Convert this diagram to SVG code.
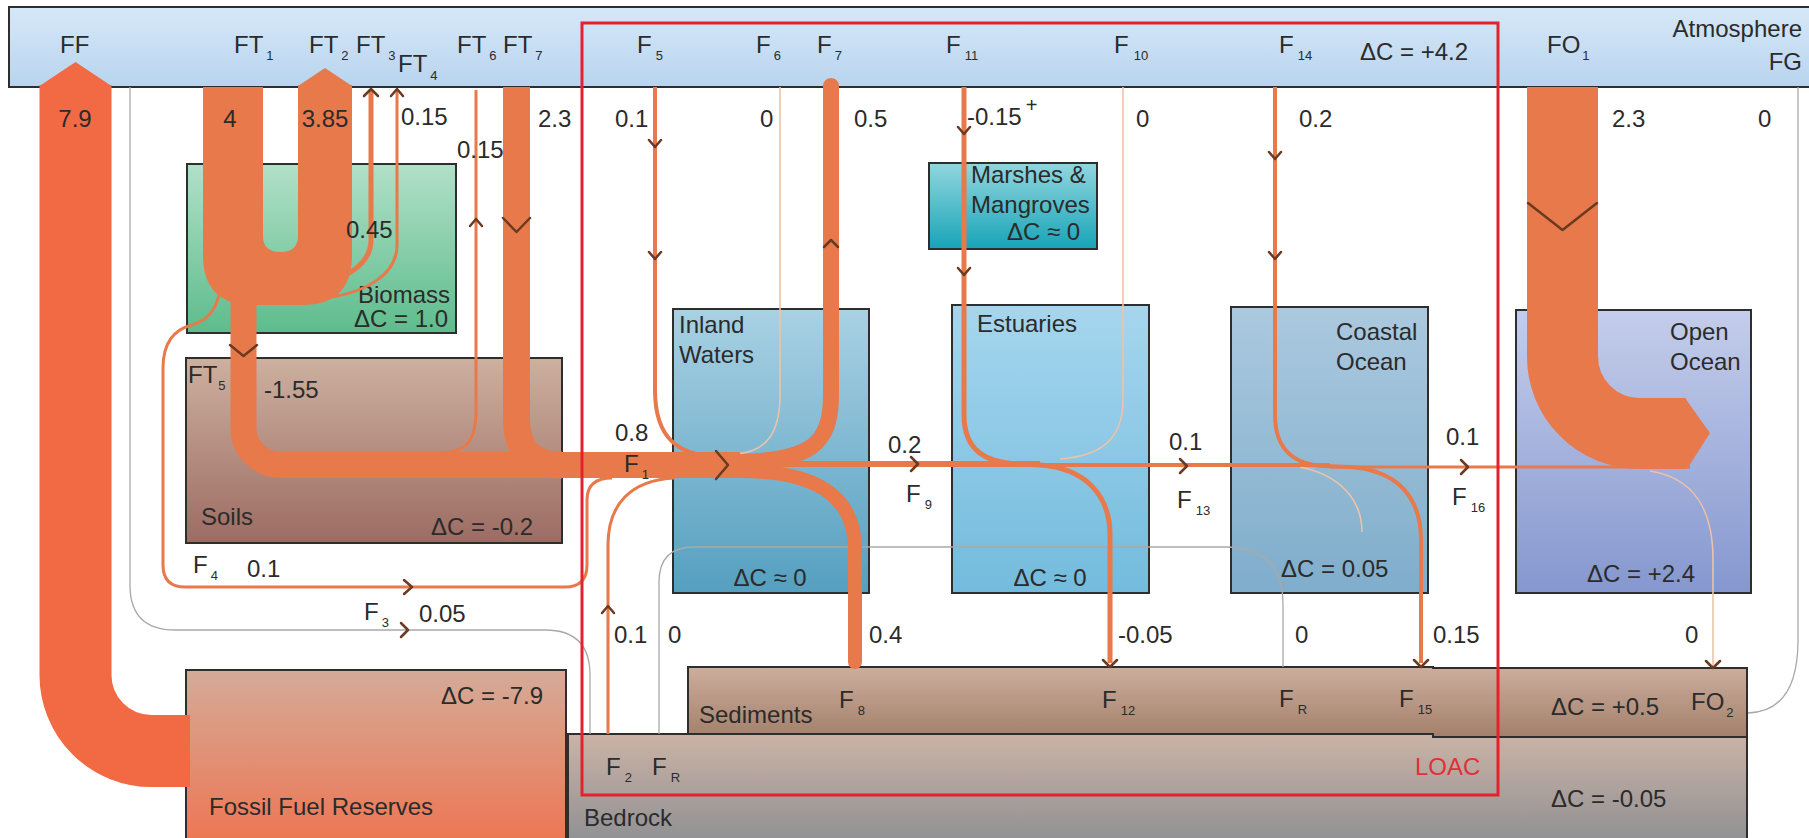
<svg xmlns="http://www.w3.org/2000/svg" width="1809" height="838" viewBox="0 0 1809 838">
<defs>
  <linearGradient id="gAtm" x1="0" y1="0" x2="0" y2="1"><stop offset="0" stop-color="#d6e8f8"/><stop offset="1" stop-color="#b8d4ee"/></linearGradient>
  <linearGradient id="gBio" x1="0" y1="0" x2="0" y2="1"><stop offset="0" stop-color="#b2e0c8"/><stop offset="1" stop-color="#5dbc8c"/></linearGradient>
  <linearGradient id="gSoil" x1="0" y1="0" x2="0" y2="1"><stop offset="0" stop-color="#cdb09f"/><stop offset="1" stop-color="#9c6c63"/></linearGradient>
  <linearGradient id="gMarsh" x1="0" y1="0" x2="0" y2="1"><stop offset="0" stop-color="#92d6de"/><stop offset="1" stop-color="#17a4b7"/></linearGradient>
  <linearGradient id="gInland" x1="0" y1="0" x2="0" y2="1"><stop offset="0" stop-color="#a9d1e3"/><stop offset="1" stop-color="#559fc0"/></linearGradient>
  <linearGradient id="gEstu" x1="0" y1="0" x2="0" y2="1"><stop offset="0" stop-color="#a6d6ee"/><stop offset="1" stop-color="#73bbdd"/></linearGradient>
  <linearGradient id="gCoast" x1="0" y1="0" x2="0" y2="1"><stop offset="0" stop-color="#abc9df"/><stop offset="1" stop-color="#7fadcb"/></linearGradient>
  <linearGradient id="gOpen" x1="0" y1="0" x2="0" y2="1"><stop offset="0" stop-color="#c4cdea"/><stop offset="1" stop-color="#8597cf"/></linearGradient>
  <linearGradient id="gSed" x1="0" y1="0" x2="0" y2="1"><stop offset="0" stop-color="#ccae9c"/><stop offset="1" stop-color="#a3806c"/></linearGradient>
  <linearGradient id="gFfr" x1="0" y1="0" x2="0" y2="1"><stop offset="0" stop-color="#d4ab98"/><stop offset="1" stop-color="#ef7350"/></linearGradient>
  <linearGradient id="gBed" x1="0" y1="0" x2="0" y2="1"><stop offset="0" stop-color="#cbb3a6"/><stop offset="1" stop-color="#8c8e92"/></linearGradient>
</defs>
<style>
  text{font-family:"Liberation Sans",Arial,sans-serif;font-size:24px;fill:#2b2b2b}
  .sub{font-size:13px}
  .box{stroke:#2e2e2e;stroke-width:2}
  .flow{fill:none;stroke:#e8794a}
  .thin{fill:none;stroke:#e8794a;stroke-width:3}
  .pale{fill:none;stroke:#efc2a6;stroke-width:1.6}
  .gray{fill:none;stroke:#a9a9a9;stroke-width:1.3}
  .chev{fill:none;stroke:#6b3a20;stroke-width:2.5;stroke-linecap:round;stroke-linejoin:round}
  .loac{fill:#e0303a}
</style>
<rect width="1809" height="838" fill="#ffffff"/>

<!-- reservoirs -->
<g id="atmosphere">
  <rect class="box" x="9" y="7" width="1810" height="80" fill="url(#gAtm)"/>
  <text x="1802" y="37" text-anchor="end">Atmosphere</text>
  <text x="1802" y="70" text-anchor="end">FG</text>
  <text x="1360" y="60">ΔC = +4.2</text>
</g>
<g id="biomass">
  <rect class="box" x="187" y="164" width="269" height="169" fill="url(#gBio)"/>
  <text x="450" y="303" text-anchor="end">Biomass</text>
  <text x="448" y="327" text-anchor="end">ΔC = 1.0</text>
</g>
<g id="soils">
  <rect class="box" x="186" y="358" width="376" height="185" fill="url(#gSoil)"/>
  <text x="201" y="525">Soils</text>
  <text x="431" y="535">ΔC = -0.2</text>
</g>
<g id="marshes">
  <rect class="box" x="929" y="163" width="168" height="86" fill="url(#gMarsh)"/>
</g>
<g id="inland-waters">
  <rect class="box" x="673" y="309" width="196" height="284" fill="url(#gInland)"/>
  <text x="679" y="333">Inland</text>
  <text x="679" y="363">Waters</text>
  <text x="770" y="586" text-anchor="middle">ΔC ≈ 0</text>
</g>
<g id="estuaries">
  <rect class="box" x="952" y="305" width="197" height="288" fill="url(#gEstu)"/>
  <text x="977" y="332">Estuaries</text>
  <text x="1050" y="586" text-anchor="middle">ΔC ≈ 0</text>
</g>
<g id="coastal-ocean">
  <rect class="box" x="1231" y="307" width="197" height="286" fill="url(#gCoast)"/>
  <text x="1336" y="340">Coastal</text>
  <text x="1336" y="370">Ocean</text>
  <text x="1281" y="577">ΔC = 0.05</text>
</g>
<g id="open-ocean">
  <rect class="box" x="1516" y="310" width="235" height="283" fill="url(#gOpen)"/>
  <text x="1670" y="340">Open</text>
  <text x="1670" y="370">Ocean</text>
  <text x="1587" y="582">ΔC = +2.4</text>
</g>
<g id="fossil-fuel-reserves">
  <rect class="box" x="186" y="670" width="380" height="180" fill="url(#gFfr)"/>
  <text x="543" y="704" text-anchor="end">ΔC = -7.9</text>
  <text x="209" y="815">Fossil Fuel Reserves</text>
</g>
<g id="bedrock">
  <rect class="box" x="568" y="734" width="1179" height="115" fill="url(#gBed)"/>
  <text x="584" y="826">Bedrock</text>
  <text x="1551" y="807">ΔC = -0.05</text>
</g>
<g id="sediments">
  <path class="box" d="M688,667 H1433 V668 H1747 V737 H1433 V734 H688 Z" fill="url(#gSed)"/>
  <text x="699" y="723">Sediments</text>
  <text x="1551" y="715">ΔC = +0.5</text>
</g>

<!-- carbon fluxes -->
<g id="connectors">
  <!-- zero / small fluxes drawn as hairlines -->
  <path class="gray" d="M130,87 V585 Q130,630 175,630 H545 Q590,630 590,675 V734"/>
  <path class="gray" d="M659,734 V582 Q659,547 694,547 H1225 Q1283,547 1283,605 V667"/>
  <path class="gray" d="M1798,87 V640 C1798,690 1780,712 1748,713"/>
  <path class="pale" d="M780,87 V395 C780,435 765,452 735,454"/>
  <path class="pale" d="M1123,87 V400 C1123,440 1100,456 1060,459"/>
  <path class="pale" d="M1300,467 C1340,475 1362,500 1362,532"/>
  <path class="pale" d="M1650,471 C1695,478 1713,510 1713,560 V667"/>

  <!-- fossil fuel emissions -->
  <path d="M75.5,85 V675 A76,76 0 0 0 151.5,751 H190" fill="none" stroke="#f26a43" stroke-width="72"/>
  <polygon points="39.5,86 75.5,62 111.5,86" fill="#f26a43"/>

  <!-- terrestrial uptake / respiration loop -->
  <path d="M203,87 V255 Q203,305 253,305 H302 Q352,305 352,255 V85 H298 V236 Q298,252 280.5,252 Q263,252 263,236 V87 Z" fill="#e8794a"/>
  <polygon points="298,86 325,68 352,86" fill="#e8794a"/>
  <path class="flow" stroke-width="5" d="M371,90 V240 C371,265 345,278 318,285"/>
  <path class="flow" stroke-width="3" d="M397,90 V245 C397,275 365,293 325,298"/>

  <!-- soil pathway into inland waters -->
  <path class="flow" stroke-width="26" d="M243.5,298 V428 A37,37 0 0 0 280.5,465 H740"/>
  <path class="flow" stroke-width="27" d="M516.5,87 V420 Q516.5,465 562,465"/>
  <path class="thin" d="M440,453 C468,452 476,440 476,410 V90"/>
  <path class="thin" d="M222,268 C222,305 210,320 192,325 C172,330 163,345 163,368 V565 Q163,587 185,587 H565 Q587,587 587,565 V500 Q587,478 612,478"/>
  <path class="thin" d="M608,734 V545 C608,505 630,480 675,478"/>

  <!-- inland waters exchanges -->
  <path class="flow" stroke-width="4" d="M655,87 V390 C655,440 680,455 715,456"/>
  <path class="flow" stroke-width="16" stroke-linecap="round" d="M831,86 V395 C831,445 810,460 740,462"/>
  <path class="flow" stroke-width="14" stroke-linecap="round" d="M740,471 C822,471 855,500 855,550 V662"/>
  <path class="flow" stroke-width="6" d="M735,464 H1040"/>
  <path class="flow" stroke-width="4" d="M1040,465 H1330"/>
  <path class="flow" stroke-width="3" d="M1330,467 H1690"/>

  <!-- estuaries and coastal ocean -->
  <path class="flow" stroke-width="5" d="M964,87 V415 C964,450 985,463 1020,464 L1040,465 C1085,468 1110,495 1110,535 V663"/>
  <path class="flow" stroke-width="4" d="M1275,87 V415 C1275,450 1295,465 1325,466 L1350,467 C1395,470 1421,495 1421,540 V663"/>

  <!-- open ocean uptake -->
  <path d="M1562.5,87 V356 A77,77 0 0 0 1639.5,433.5 H1686" fill="none" stroke="#e8794a" stroke-width="71"/>
  <polygon points="1685,398 1710,433 1687,469 1680,469 1680,398" fill="#e8794a"/>

  <!-- direction marks -->
  <path class="chev" stroke-width="3" d="M716,451 L728,465 L716,479"/>
  <path class="chev" d="M911,457 L918,464 L911,471"/>
  <path class="chev" d="M1180,459 L1187,466 L1180,473"/>
  <path class="chev" d="M1461,460 L1468,467 L1461,474"/>
  <path class="chev" d="M404,580 L412,587 L404,594"/>
  <path class="chev" stroke="#8a8a8a" stroke-width="1.6" d="M401,623 L408,630 L401,637"/>
  <path class="chev" d="M602,613 L608,606 L614,613"/>
  <path class="chev" d="M649,140 L655,147 L661,140 M649,252 L655,259 L661,252"/>
  <path class="chev" d="M958,127 L964,134 L970,127 M958,268 L964,275 L970,268"/>
  <path class="chev" d="M1269,152 L1275,159 L1281,152 M1269,252 L1275,259 L1281,252"/>
  <path class="chev" d="M824,247 L831,240 L838,247"/>
  <path class="chev" d="M470,226 L476,219 L482,226"/>
  <path class="chev" d="M364,96 L371,89 L378,96 M391,96 L397,89 L403,96"/>
  <path class="chev" d="M503,218 L516.5,232 L530,218"/>
  <path class="chev" d="M230,345 L243.5,356 L257,345"/>
  <path class="chev" stroke-width="3" d="M1528,203 L1562.5,230 L1597,203"/>
  <path class="chev" d="M1103,660 L1110,667 L1117,660 M1414,660 L1421,667 L1428,660 M1706,661 L1713,668 L1720,661"/>
</g>

<!-- land-ocean aquatic continuum boundary -->
<g id="loac">
  <rect x="582" y="23" width="916" height="772" fill="none" stroke="#e3222d" stroke-width="3"/>
  <text class="loac" x="1415" y="775">LOAC</text>
</g>

<g id="marshes-label">
  <text x="971" y="183">Marshes &amp;</text>
  <text x="971" y="213">Mangroves</text>
  <text x="1007" y="240">ΔC ≈ 0</text>
</g>

<!-- flux names and values -->
<g id="flux-labels">
  <text x="60" y="53">FF</text>
  <text x="234" y="53">FT<tspan class="sub" dx="3" dy="7">1</tspan></text>
  <text x="309" y="53">FT<tspan class="sub" dx="3" dy="7">2</tspan></text>
  <text x="356" y="53">FT<tspan class="sub" dx="3" dy="7">3</tspan></text>
  <text x="398" y="72">FT<tspan class="sub" dx="3" dy="8">4</tspan></text>
  <text x="457" y="53">FT<tspan class="sub" dx="3" dy="7">6</tspan></text>
  <text x="503" y="53">FT<tspan class="sub" dx="3" dy="7">7</tspan></text>
  <text x="637" y="53">F<tspan class="sub" dx="4" dy="7">5</tspan></text>
  <text x="756" y="53">F<tspan class="sub" dx="3" dy="7">6</tspan></text>
  <text x="817" y="53">F<tspan class="sub" dx="3" dy="7">7</tspan></text>
  <text x="946" y="53">F<tspan class="sub" dx="4" dy="7">11</tspan></text>
  <text x="1114" y="53">F<tspan class="sub" dx="5" dy="7">10</tspan></text>
  <text x="1279" y="53">F<tspan class="sub" dx="4" dy="7">14</tspan></text>
  <text x="1547" y="53">FO<tspan class="sub" dx="2" dy="7">1</tspan></text>

  <text x="75" y="127" text-anchor="middle">7.9</text>
  <text x="230" y="127" text-anchor="middle">4</text>
  <text x="325" y="127" text-anchor="middle">3.85</text>
  <text x="401" y="125">0.15</text>
  <text x="457" y="158">0.15</text>
  <text x="538" y="127">2.3</text>
  <text x="346" y="238">0.45</text>
  <text x="615" y="127">0.1</text>
  <text x="760" y="127">0</text>
  <text x="854" y="127">0.5</text>
  <text x="967" y="125">-0.15<tspan dx="4" dy="-13" font-size="20">+</tspan></text>
  <text x="1136" y="127">0</text>
  <text x="1299" y="127">0.2</text>
  <text x="1612" y="127">2.3</text>
  <text x="1758" y="127">0</text>

  <text x="188" y="383">FT<tspan class="sub" dx="1" dy="7">5</tspan></text>
  <text x="264" y="398">-1.55</text>
  <text x="193" y="573">F<tspan class="sub" dx="3" dy="7">4</tspan></text>
  <text x="247" y="577">0.1</text>
  <text x="364" y="620">F<tspan class="sub" dx="3" dy="7">3</tspan></text>
  <text x="419" y="622">0.05</text>
  <text x="615" y="441">0.8</text>
  <text x="624" y="472">F<tspan class="sub" dx="3" dy="7">1</tspan></text>
  <text x="888" y="453">0.2</text>
  <text x="906" y="502">F<tspan class="sub" dx="4" dy="7">9</tspan></text>
  <text x="1169" y="450">0.1</text>
  <text x="1177" y="508">F<tspan class="sub" dx="4" dy="7">13</tspan></text>
  <text x="1446" y="445">0.1</text>
  <text x="1452" y="505">F<tspan class="sub" dx="4" dy="7">16</tspan></text>

  <text x="614" y="643">0.1</text>
  <text x="668" y="643">0</text>
  <text x="869" y="643">0.4</text>
  <text x="1118" y="643">-0.05</text>
  <text x="1295" y="643">0</text>
  <text x="1433" y="643">0.15</text>
  <text x="1685" y="643">0</text>

  <text x="839" y="708">F<tspan class="sub" dx="4" dy="7">8</tspan></text>
  <text x="1102" y="708">F<tspan class="sub" dx="4" dy="7">12</tspan></text>
  <text x="1279" y="707">F<tspan class="sub" dx="4" dy="7">R</tspan></text>
  <text x="1399" y="707">F<tspan class="sub" dx="4" dy="7">15</tspan></text>
  <text x="1691" y="710">FO<tspan class="sub" dx="2" dy="7">2</tspan></text>
  <text x="606" y="775">F<tspan class="sub" dx="4" dy="7">2</tspan></text>
  <text x="652" y="775">F<tspan class="sub" dx="4" dy="7">R</tspan></text>
</g>
</svg>
